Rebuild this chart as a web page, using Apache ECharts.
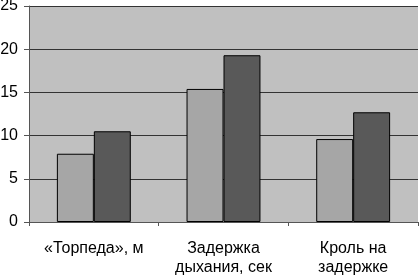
<!DOCTYPE html>
<html>
<head>
<meta charset="utf-8">
<script src="https://cdn.jsdelivr.net/npm/echarts@6/dist/echarts.min.js"></script>
<style>
  html, body { margin: 0; padding: 0; background: #fff; }
  #chart { width: 419px; height: 275px; }
</style>
</head>
<body>
<div id="chart"></div>
<script>
const categories = ['«Торпеда», м', 'Задержка\nдыхания, сек', 'Кроль на\nзадержке']
const seriesA = [7.9, 15.4, 9.6]
const seriesB = [10.5, 19.3, 12.7]

const chart = echarts.init(document.getElementById('chart'))
const font = 'Liberation Sans, Arial, sans-serif'
const option = {
  backgroundColor: '#ffffff',
  animation: false,
  grid: {
    left: 29, right: 1, top: 6, bottom: 53, show: true,
    backgroundColor: '#c0c0c0', borderWidth: 0,
    containLabel: false, outerBoundsMode: 'none'
  },
  xAxis: {
    type: 'category',
    data: categories,
    axisLine: { lineStyle: { color: '#555', width: 1 } },
    axisTick: { show: true, length: 4, lineStyle: { color: '#555' } },
    axisLabel: { color: '#000', fontSize: 16, fontFamily: font, margin: 17, lineHeight: 19, interval: 0, hideOverlap: false }
  },
  yAxis: {
    type: 'value',
    min: 0, max: 25, interval: 5,
    axisLine: { show: true, lineStyle: { color: '#555', width: 1 } },
    axisTick: { show: true, length: 5, lineStyle: { color: '#555' } },
    splitLine: { lineStyle: { color: '#333', width: 1 } },
    axisLabel: { color: '#000', fontSize: 16, fontFamily: font, margin: 11 }
  },
  series: [
    {
      type: 'bar', data: seriesA, barGap: '0%', barCategoryGap: '43%',
      itemStyle: { color: '#a6a6a6', borderColor: '#000', borderWidth: 1 }
    },
    {
      type: 'bar', data: seriesB,
      itemStyle: { color: '#595959', borderColor: '#000', borderWidth: 1 }
    }
  ]
}
chart.setOption(option)
</script>
</body>
</html>
